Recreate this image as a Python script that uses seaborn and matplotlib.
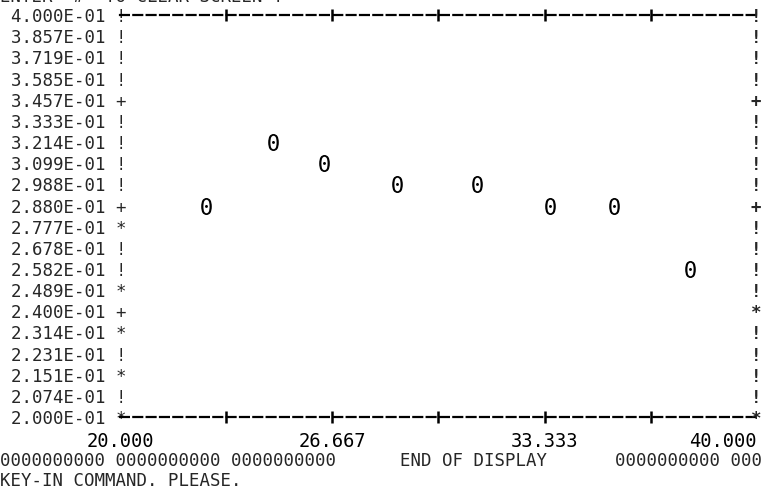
import matplotlib
matplotlib.use('Agg')
import matplotlib.pyplot as plt
import numpy as np
import pandas as pd
import seaborn as sns

X_VALUES = [22.7, 24.8, 26.4, 28.7, 31.2, 33.5, 35.5, 37.9]
Y_VALUES = [0.2880, 0.3214, 0.3099, 0.2988, 0.2988, 0.2880, 0.2880, 0.2582]

# log-scaled y rows printed by the terminal
Y_TICKS = [0.4000, 0.3857, 0.3719, 0.3585, 0.3457, 0.3333, 0.3214, 0.3099, 0.2988, 0.2880,
           0.2777, 0.2678, 0.2582, 0.2489, 0.2400, 0.2314, 0.2231, 0.2151, 0.2074, 0.2000]
LEFT_BORDER = ['!', '!', '!', '!', '+', '!', '!', '!', '!', '+',
               '*', '!', '!', '*', '+', '*', '!', '*', '!', '*']
RIGHT_BORDER = ['!', '!', '!', '!', '+', '!', '!', '!', '!', '+',
                '!', '!', '!', '!', '*', '!', '!', '!', '!', '*']

X_TICKS = [20.0, 23.333, 26.667, 30.0, 33.333, 36.667, 40.0]
X_TICK_LABELS = ['20.000', '', '26.667', '', '33.333', '', '40.000']

HEADER = "ENTER '#' TO CLEAR SCREEN !"
FOOTER_LEFT = '0000000000 0000000000 0000000000'
FOOTER_MID = 'END OF DISPLAY'
FOOTER_RIGHT = '0000000000 000'
PROMPT = 'KEY-IN COMMAND. PLEASE.'

sns.set_style('white')
plt.rcParams['font.family'] = ['DejaVu Sans Mono']
FS = 12.5

df = pd.DataFrame({'x': X_VALUES, 'y': Y_VALUES})

fig = plt.figure(figsize=(7.64, 4.90), dpi=100)
ax = fig.add_axes([120 / 764, 1 - 417 / 490, (757 - 120) / 764, (417 - 15) / 490])

sns.scatterplot(data=df, x='x', y='y', ax=ax, marker='$\\mathtt{0}$', s=150,
                color='black', linewidth=0, legend=False, clip_on=False)

ax.set_yscale('log')
ax.set_xlim(X_TICKS[0], X_TICKS[-1])
ax.set_ylim(Y_TICKS[-1], Y_TICKS[0])
ax.set_xlabel('')
ax.set_ylabel('')

# top/bottom borders drawn as dashed lines with '+' tick crossings
for side in ['top', 'bottom']:
    ax.spines[side].set_linestyle((0, (4, 2)))
    ax.spines[side].set_linewidth(1.6)
    ax.spines[side].set_color('black')
for side in ['left', 'right']:
    ax.spines[side].set_visible(False)

ax.set_xticks(X_TICKS)
ax.set_xticklabels(X_TICK_LABELS, fontsize=FS + 1)
ax.tick_params(axis='x', which='major', direction='inout', length=9, width=1.8,
               top=True, bottom=True, pad=6, colors='black')
ax.tick_params(axis='x', which='minor', length=0)
xt = ax.xaxis.get_major_ticks()
for t in (xt[0], xt[-1]):
    t.tick1line.set_visible(False)
    t.tick2line.set_visible(False)
ax.get_xticklabels()[-1].set_horizontalalignment('right')

# left border: printed values followed by the border character
ax.set_yticks(Y_TICKS)
ax.set_yticklabels([f'{v:.3E} {c}' for v, c in zip(Y_TICKS, LEFT_BORDER)], fontsize=FS)
ax.yaxis.set_minor_locator(matplotlib.ticker.NullLocator())
ax.tick_params(axis='y', which='major', length=0, pad=-4.5)

# right border as its own column of characters
ax2 = ax.twinx()
ax2.set_yscale('log')
ax2.set_ylim(ax.get_ylim())
ax2.set_yticks(Y_TICKS)
ax2.set_yticklabels(RIGHT_BORDER, fontsize=FS, fontweight='bold')
ax2.yaxis.set_minor_locator(matplotlib.ticker.NullLocator())
ax2.tick_params(axis='y', which='major', length=0, pad=-4.5)
for side in ax2.spines:
    ax2.spines[side].set_visible(False)

fig.text(0.0, 1.006, HEADER, fontsize=FS, va='center', ha='left')
fig.text(0.0, 1 - 461 / 490, FOOTER_LEFT, fontsize=FS, va='center', ha='left')
fig.text(400 / 764, 1 - 461 / 490, FOOTER_MID, fontsize=FS, va='center', ha='left')
fig.text(762 / 764, 1 - 461 / 490, FOOTER_RIGHT, fontsize=FS, va='center', ha='right')
fig.text(0.0, 1 - 481 / 490, PROMPT, fontsize=FS, va='center', ha='left')

fig.savefig('out.png', dpi=100)
